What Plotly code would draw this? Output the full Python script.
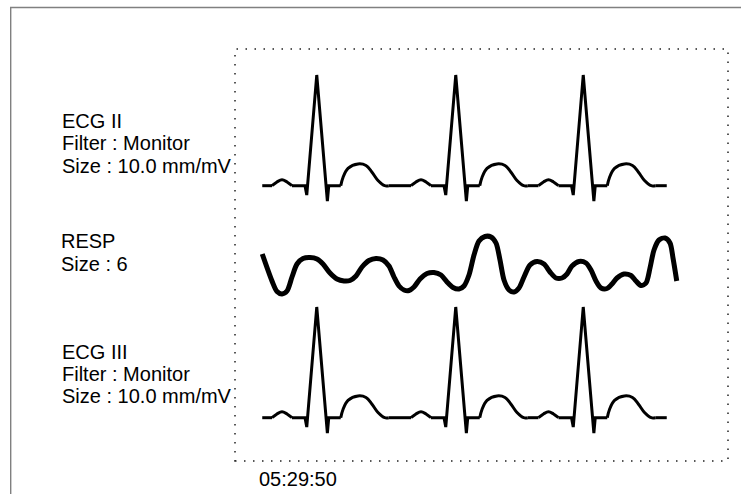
import plotly.graph_objects as go

# ---------------------------------------------------------------- data
# Time base in milliseconds across the strip
STRIP_MS = 3944

# ECG: R-peak times of the three beats and the extent of the traced strip
R_PEAKS_MS = [654, 1766, 2786]
ECG_START_MS = 218
ECG_END_MS = 3454

# One beat template, times relative to the R peak (ms), amplitude in mV
P_WAVE_T = [-358, -318, -278, -238, -198]
P_WAVE_MV = [0.0, 0.05, 0.08, 0.05, 0.0]

QRS_T = [-94, -80, 0, 85, 96, 192]
QRS_MV = [0.0, -0.125, 1.476, -0.207, 0.0, 0.0]

T_WAVE_T = [192, 210, 250, 330, 394, 442, 490, 544, 576]
T_WAVE_MV = [0.0, 0.11, 0.23, 0.29, 0.27, 0.18, 0.07, 0.0, 0.0]

# Respiration curve (ms, arbitrary units)
RESP_T = [218, 296, 336, 376, 416, 456, 496, 544, 600, 656, 704, 760, 816,
          872, 920, 968, 1016, 1072, 1128, 1184, 1232, 1272, 1312, 1352, 1392,
          1432, 1480, 1536, 1592, 1648, 1696, 1744, 1792, 1832, 1872, 1912,
          1952, 2000, 2048, 2088, 2120, 2152, 2192, 2232, 2272, 2312, 2360,
          2416, 2472, 2520, 2568, 2616, 2656, 2696, 2752, 2808, 2848, 2888,
          2928, 2976, 3016, 3056, 3112, 3168, 3208, 3248, 3288, 3320, 3352,
          3392, 3440, 3480, 3504, 3534]
RESP_V = [2.1, -0.6, -1.65, -1.9, -1.6, -0.2, 1.1, 1.65, 1.75, 1.6, 1.1, 0.2,
          -0.4, -0.6, -0.55, -0.1, 0.8, 1.45, 1.65, 1.5, 0.9, -0.2, -1.1, -1.5,
          -1.55, -1.2, -0.4, 0.15, 0.25, 0.0, -0.7, -1.25, -1.4, -1.1, 0.0,
          2.0, 3.4, 3.85, 3.8, 3.2, 1.5, -0.5, -1.5, -1.7, -1.3, -0.2, 1.0,
          1.35, 1.1, 0.3, -0.3, -0.3, 0.1, 0.9, 1.35, 1.2, 0.5, -0.6, -1.3,
          -1.35, -0.9, -0.3, 0.1, -0.05, -0.6, -1.05, -0.8, 0.7, 2.5, 3.5,
          3.7, 3.2, 1.7, -0.6]

# Channel captions
ECG2_LABELS = ["ECG II", "Filter : Monitor", "Size : 10.0 mm/mV"]
RESP_LABELS = ["RESP", "Size : 6"]
ECG3_LABELS = ["ECG III", "Filter : Monitor", "Size : 10.0 mm/mV"]
TIME_LABEL = "05:29:50"

# ---------------------------------------------------------------- layout
W, H = 741, 494
FONT = "Liberation Sans, Arial, Helvetica, sans-serif"
BOX = dict(left=235, right=728, top=49, bottom=461)   # dotted frame (px)
ECG_PX_PER_MV = 75.0
RESP_PX_PER_UNIT = 10.0
ECG2_BASE_PX = 185.7
RESP_BASE_PX = 275.0
ECG3_BASE_PX = 417.7


def axis_range(base_px, px_per_unit):
    """y range so that value 0 lands on base_px with the given scale."""
    return [-(H - base_px) / px_per_unit, base_px / px_per_unit]


def ecg_paths():
    """Split the strip into straight parts (baseline + QRS) and curved parts (P, T)."""
    lin_x, lin_y, crv_x, crv_y = [], [], [], []
    prev_end = ECG_START_MS
    for r in R_PEAKS_MS:
        # baseline up to the P wave
        lin_x += [prev_end, r + P_WAVE_T[0], None]
        lin_y += [0.0, 0.0, None]
        crv_x += [r + t for t in P_WAVE_T] + [None]
        crv_y += P_WAVE_MV + [None]
        # PR segment, QRS complex and ST segment
        lin_x += [r + P_WAVE_T[-1]] + [r + t for t in QRS_T] + [None]
        lin_y += [0.0] + QRS_MV + [None]
        crv_x += [r + t for t in T_WAVE_T] + [None]
        crv_y += T_WAVE_MV + [None]
        prev_end = r + T_WAVE_T[-1]
    lin_x += [prev_end, ECG_END_MS]
    lin_y += [0.0, 0.0]
    return lin_x, lin_y, crv_x, crv_y


fig = go.Figure()
lx, ly, cx, cy = ecg_paths()
for yax in ("y", "y3"):
    fig.add_trace(go.Scatter(x=lx, y=ly, yaxis=yax, mode="lines",
                             line=dict(color="black", width=3),
                             hoverinfo="skip", showlegend=False))
    fig.add_trace(go.Scatter(x=cx, y=cy, yaxis=yax, mode="lines",
                             line=dict(color="black", width=3, shape="spline",
                                       smoothing=1.0),
                             hoverinfo="skip", showlegend=False))

fig.add_trace(go.Scatter(x=RESP_T, y=RESP_V, yaxis="y2", mode="lines",
                         line=dict(color="black", width=5, shape="spline",
                                   smoothing=0.8),
                         hoverinfo="skip", showlegend=False))

hidden = dict(visible=False, showgrid=False, zeroline=False, fixedrange=True)
fig.update_layout(
    width=W, height=H,
    margin=dict(l=0, r=0, t=0, b=0),
    paper_bgcolor="white", plot_bgcolor="white",
    xaxis=dict(domain=[BOX["left"] / W, BOX["right"] / W],
               range=[0, STRIP_MS], **hidden),
    yaxis=dict(domain=[0, 1], range=axis_range(ECG2_BASE_PX, ECG_PX_PER_MV), **hidden),
    yaxis2=dict(domain=[0, 1], overlaying="y", anchor="x",
                range=axis_range(RESP_BASE_PX, RESP_PX_PER_UNIT), **hidden),
    yaxis3=dict(domain=[0, 1], overlaying="y", anchor="x",
                range=axis_range(ECG3_BASE_PX, ECG_PX_PER_MV), **hidden),
    showlegend=False,
)

# outer panel frame (runs off the right and bottom edges)
fig.add_shape(type="rect", xref="paper", yref="paper",
              x0=10.7 / W, x1=1.05, y0=-0.05, y1=1 - 7.5 / H,
              line=dict(color="#808080", width=1.4), layer="below")
# dotted strip frame
fig.add_shape(type="rect", xref="paper", yref="paper",
              x0=BOX["left"] / W, x1=BOX["right"] / W,
              y0=1 - BOX["bottom"] / H, y1=1 - BOX["top"] / H,
              line=dict(color="#222222", width=1.5, dash="1.5px,7.5px"),
              layer="below")


def caption(lines, x_px, first_y_px, step_px=22):
    for k, txt in enumerate(lines):
        fig.add_annotation(text=txt, xref="paper", yref="paper",
                           x=x_px / W, y=1 - (first_y_px + k * step_px) / H,
                           xanchor="left", yanchor="middle", showarrow=False,
                           font=dict(family=FONT, size=20, color="black"))


caption(ECG2_LABELS, 59.5, 121.5)
caption(RESP_LABELS, 59.0, 241.5)
caption(ECG3_LABELS, 59.5, 352.0)

fig.add_annotation(text=TIME_LABEL, xref="paper", yref="paper",
                   x=298 / W, y=1 - 479 / H, xanchor="center", yanchor="middle",
                   showarrow=False, font=dict(family=FONT, size=20, color="black"))

fig.write_html("out.html", config=dict(displayModeBar=False, staticPlot=True))
